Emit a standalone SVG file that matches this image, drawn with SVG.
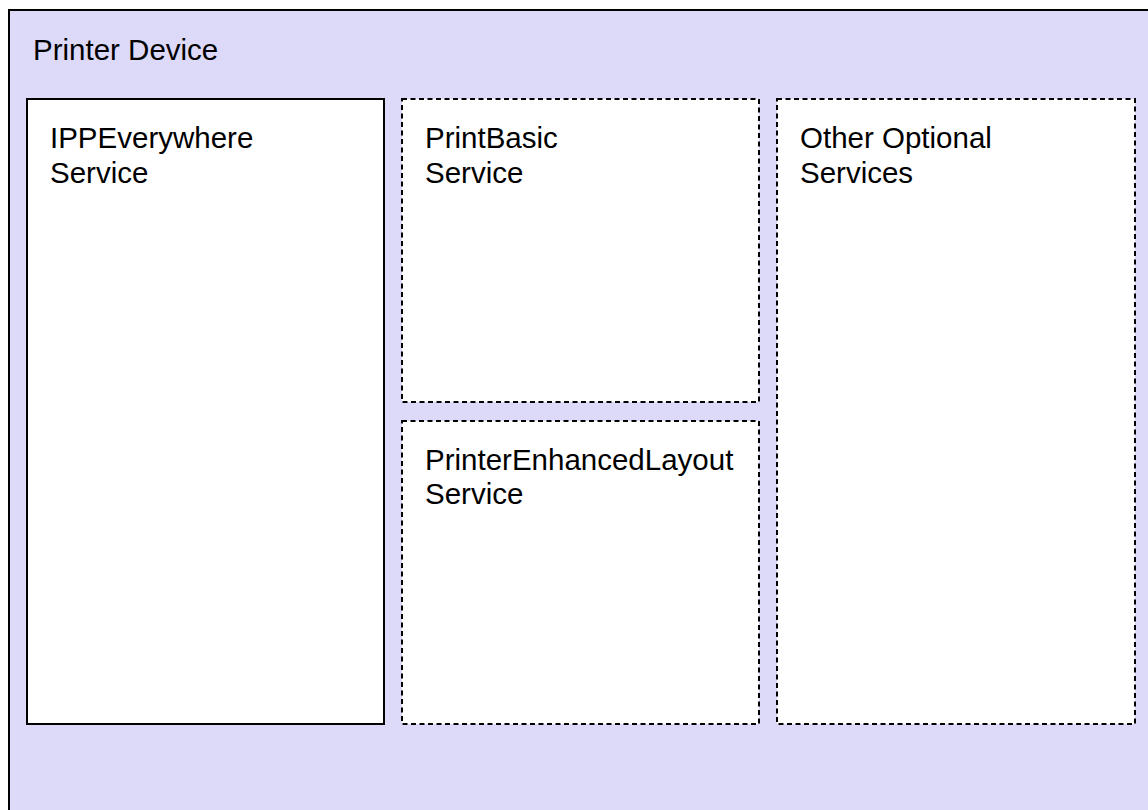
<svg xmlns="http://www.w3.org/2000/svg" width="1148" height="810" viewBox="0 0 1148 810">
<style>
.lbl{font-family:"Liberation Sans",Arial,Helvetica,sans-serif;font-size:29.5px;fill:#000}
.svc{fill:#fff;stroke:#000;stroke-width:2}
.opt{fill:#fff;stroke:#000;stroke-width:2;stroke-dasharray:5 3.5}
</style>
<rect width="1148" height="810" fill="#fff"/>
<g id="printer-device">
<rect x="9" y="10" width="1150" height="820" fill="#dcdaf8" stroke="#000" stroke-width="2"/>
<text class="lbl" x="33" y="60">Printer Device</text>
</g>
<g id="ippeverywhere">
<rect class="svc" x="27" y="99" width="357" height="625"/>
<text class="lbl" x="50" y="148">IPPEverywhere</text>
<text class="lbl" x="50" y="183">Service</text>
</g>
<g id="printbasic">
<rect class="opt" x="402" y="99" width="357" height="303"/>
<text class="lbl" x="425" y="148">PrintBasic</text>
<text class="lbl" x="425" y="183">Service</text>
</g>
<g id="printerenhancedlayout">
<rect class="opt" x="402" y="421" width="357" height="303"/>
<text class="lbl" x="425" y="470">PrinterEnhancedLayout</text>
<text class="lbl" x="425" y="504">Service</text>
</g>
<g id="other-optional">
<rect class="opt" x="777" y="99" width="358" height="625"/>
<text class="lbl" x="800" y="148">Other Optional</text>
<text class="lbl" x="800" y="183">Services</text>
</g>
<g id="connectors"/>
</svg>
